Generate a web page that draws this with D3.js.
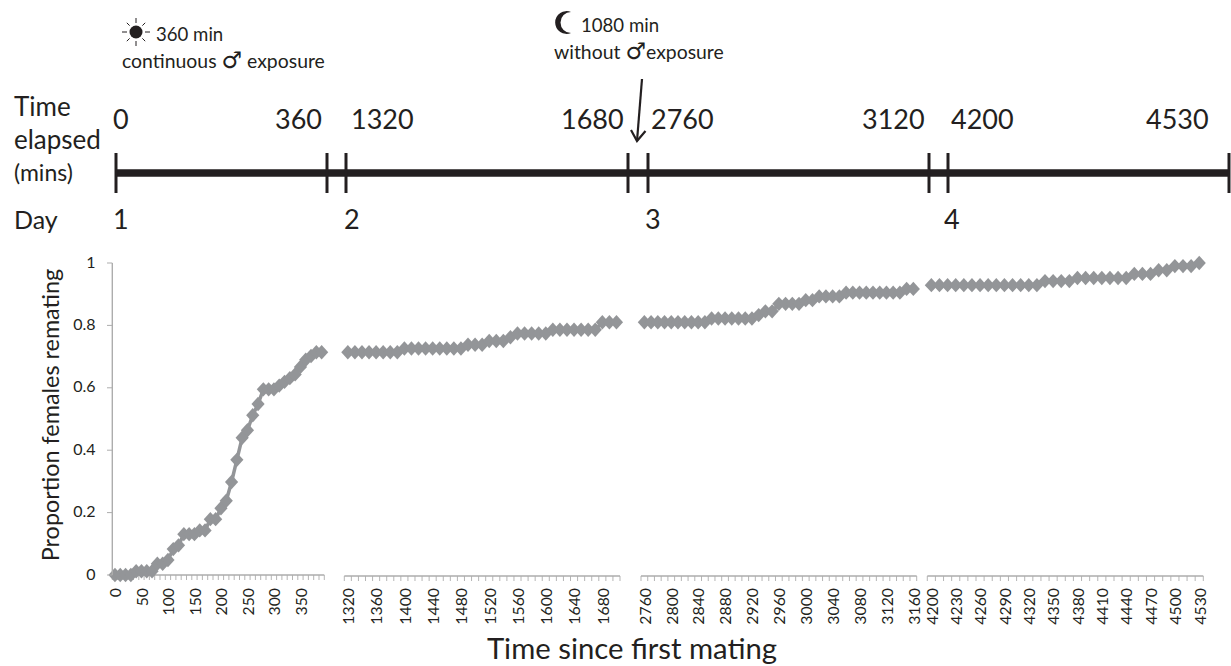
<!DOCTYPE html>
<html><head><meta charset="utf-8">
<script src="https://cdnjs.cloudflare.com/ajax/libs/d3/7.8.5/d3.min.js"></script>
<style>html,body{margin:0;padding:0;background:#fff}svg{display:block}</style></head>
<body><svg id="c" width="1231" height="666"></svg>
<script>
const panel1Times = d3.range(0, 400, 10);
const panel1Values = [0,0,0,0,.012,.012,.012,.012,.036,.036,.048,.083,.095,.131,.131,.131,.143,.143,.179,.179,.214,.238,.298,.369,.44,.464,.512,.548,.595,.595,.595,.607,.619,.631,.643,.667,.69,.702,.714,.714];
const panel2Times = d3.range(1320, 1710, 10);
const panel2Values = [.714,.714,.714,.714,.714,.714,.714,.714,.726,.726,.726,.726,.726,.726,.726,.726,.726,.738,.738,.738,.75,.75,.75,.762,.774,.774,.774,.774,.774,.786,.786,.786,.786,.786,.786,.786,.81,.81,.81];
const panel3Times = d3.range(2760, 3170, 10);
const panel3Values = [.81,.81,.81,.81,.81,.81,.81,.81,.81,.81,.822,.822,.822,.822,.822,.822,.822,.833,.845,.845,.869,.869,.869,.869,.881,.881,.893,.893,.893,.893,.905,.905,.905,.905,.905,.905,.905,.905,.905,.917,.917];
const panel4Times = d3.range(4200, 4540, 10);
const panel4Values = [.929,.929,.929,.929,.929,.929,.929,.929,.929,.929,.929,.929,.929,.929,.942,.942,.942,.942,.952,.952,.952,.952,.952,.952,.952,.965,.965,.965,.977,.977,.99,.99,.99,1];
const yTicks = [0,.2,.4,.6,.8,1];
const labelSteps = [5,4,4,3];
const timelineMinutes = [0,360,1320,1680,2760,3120,4200,4530];
const dayLabels = ["1","2","3","4"];

const svg = d3.select("#c");
const ink = "#231f20", grey = "#939598", axisGrey = "#adadad", sans = "Lato, 'Open Sans', sans-serif";
const text = (x,y,s,size,o={}) => svg.append("text").attr("x",x).attr("y",y).attr("font-family",o.font||sans).attr("font-size",size).attr("fill",ink).attr("text-anchor",o.anchor||"start").text(s);

// ---- timeline
const tl = d3.scaleLinear().domain(timelineMinutes).range([116,327,346,628,648,929,948,1229]);
svg.append("line").attr("x1",tl(0)).attr("x2",tl(4530)).attr("y1",173).attr("y2",173).attr("stroke",ink).attr("stroke-width",7.5);
svg.selectAll(".tlt").data(timelineMinutes).join("line").attr("x1",d=>tl(d)).attr("x2",d=>tl(d)).attr("y1",153).attr("y2",193).attr("stroke",ink).attr("stroke-width",3);
const tlLabelX = [113,275,351,561,651,862,951,1146];
timelineMinutes.forEach((m,i)=>text(tlLabelX[i],129,String(m),27));
const dayX = [113,344,645,944];
dayLabels.forEach((d,i)=>text(dayX[i],229,d,27));
text(14,116,"Time",26); text(14,149,"elapsed",26); text(14,181,"(mins)",23); text(14,229,"Day",25);

// annotations
const sun = svg.append("g").attr("transform","translate(136,32)");
sun.append("circle").attr("r",6.5).attr("fill",ink);
d3.range(8).forEach(i=>{const a=i*Math.PI/4, r1=9, r2=i%2?13:14;
  sun.append("line").attr("x1",r1*Math.cos(a)).attr("y1",r1*Math.sin(a)).attr("x2",r2*Math.cos(a)).attr("y2",r2*Math.sin(a)).attr("stroke",ink).attr("stroke-width",1);});
text(156,41,"360 min",18.6);
const male = (t)=>t.append("tspan").attr("font-family","'DejaVu Sans'").attr("font-weight","bold").attr("font-size",23).text("♂");
const a1 = text(122,68,"continuous ",19.4); male(a1); a1.append("tspan").text(" exposure");
svg.append("path").attr("d","M571 12 A11.4 11.4 0 1 0 571 33 A10.5 10.5 0 0 1 571 12 Z").attr("fill",ink);
text(581,32,"1080 min",18.6);
const a2 = text(554,59,"without ",19.4); male(a2); a2.append("tspan").text("exposure");
svg.append("line").attr("x1",642).attr("y1",79).attr("x2",637).attr("y2",141).attr("stroke",ink).attr("stroke-width",2.2);
svg.append("path").attr("d","M631 130 L637 141 L645.5 131").attr("fill","none").attr("stroke",ink).attr("stroke-width",2.2);

// ---- chart
const y = d3.scaleLinear().domain([0,1]).range([575,263]);
const panels = [
 {t:panel1Times,v:panel1Values,r:[112.3,324.3],step:labelSteps[0],ay:575},
 {t:panel2Times,v:panel2Values,r:[344.3,620],step:labelSteps[1],ay:576},
 {t:panel3Times,v:panel3Values,r:[641,916.7],step:labelSteps[2],ay:576},
 {t:panel4Times,v:panel4Values,r:[927.3,1203.3],step:labelSteps[3],ay:576}];
const diamond = "M0-7.2L6.6 0 0 7.2-6.6 0Z";
panels.forEach(p=>{
  const x = d3.scaleBand().domain(p.t).range(p.r);
  const g = svg.append("g");
  const ax = g.append("g").attr("transform",`translate(0,${p.ay})`);
  ax.append("line").attr("x1",p.r[0]).attr("x2",p.r[1]).attr("stroke",axisGrey).attr("stroke-width",1.3);
  const edges = p.t.map(d=>x(d)).concat([p.r[1]]);
  ax.selectAll(".m").data(edges).join("line").attr("x1",d=>d).attr("x2",d=>d).attr("y1",0).attr("y2",5).attr("stroke",axisGrey).attr("stroke-width",0.9);
  ax.selectAll("text").data(p.t.filter((d,i)=>i%p.step===0)).join("text")
    .attr("transform",d=>`translate(${x(d)+x.bandwidth()/2+6.3},${12-(p.ay-576)}) rotate(-90)`)
    .attr("text-anchor","end").attr("font-family",sans).attr("font-size",15.8).attr("fill",ink).text(d=>d);
  const line = d3.line().x((d,i)=>x(p.t[i])+x.bandwidth()/2).y(d=>y(d));
  g.append("path").attr("d",line(p.v)).attr("fill","none").attr("stroke",grey).attr("stroke-width",3.5);
  g.selectAll(".d").data(p.v).join("path").attr("d",diamond).attr("fill",grey)
    .attr("transform",(d,i)=>`translate(${x(p.t[i])+x.bandwidth()/2},${y(d)})`);
});
// y axis
svg.append("line").attr("x1",112.3).attr("x2",112.3).attr("y1",y(1)).attr("y2",y(0)).attr("stroke",axisGrey).attr("stroke-width",1.4);
yTicks.forEach(t=>{
  svg.append("line").attr("x1",107).attr("x2",112.3).attr("y1",y(t)).attr("y2",y(t)).attr("stroke",axisGrey);
  text(95.5,y(t)+4.5,String(t),16,{anchor:"end"});
});
svg.append("text").attr("transform","translate(59,415) rotate(-90)").attr("text-anchor","middle").attr("font-family",sans).attr("font-size",23.4).attr("fill",ink).text("Proportion females remating");
text(632,659,"Time since first mating",29.3,{anchor:"middle"});
</script></body></html>
